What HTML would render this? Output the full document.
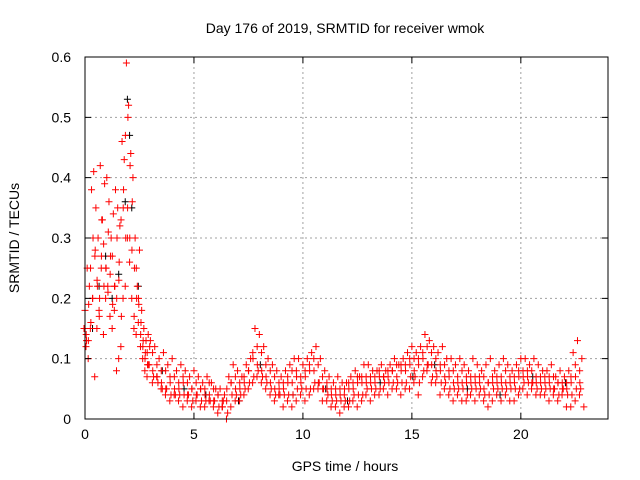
<!DOCTYPE html>
<html><head><meta charset="utf-8"><style>
html,body{margin:0;padding:0;background:#fff;}
svg{display:block;font-family:"Liberation Sans",sans-serif;}
</style></head><body>
<svg id="chart" width="640" height="480" viewBox="0 0 640 480">
<rect x="0" y="0" width="640" height="480" fill="#fff"/>
<g id="grid"></g>
<g id="marks"></g>
<rect x="85" y="57" width="523" height="362" fill="none" stroke="#000" stroke-width="1"/>
<g id="axes"></g>
<text x="345" y="33" text-anchor="middle" font-size="14" fill="#000">Day 176 of 2019, SRMTID for receiver wmok</text>
<text x="345" y="471" text-anchor="middle" font-size="14" fill="#000">GPS time / hours</text>
<text x="19" y="238" text-anchor="middle" font-size="14" fill="#000" transform="rotate(-90 19 238)">SRMTID / TECUs</text>
</svg>
<script>
const xTicks = [0,5,10,15,20];
const yTicks = [0,0.1,0.2,0.3,0.4,0.5,0.6];
const yTickLabels = ["0","0.1","0.2","0.3","0.4","0.5","0.6"];
const earlyHours = [0,0.1,0.2,0.3,0.4,0.5,0.6,0.7,0.8,0.9,1.0,1.1,1.2,1.3,1.4,1.5,1.6,1.7,1.8,1.9,2.0,2.1,2.2,2.3,2.4,2.5,2.6,2.7,2.8,2.9];
const earlyA = [.18,.25,.22,.38,.41,.35,.30,.42,.33,.39,.40,.36,.30,.34,.38,.35,.32,.46,.43,.59,.52,.44,.40,.30,.22,.28,.18,.15,.13,.14];
const earlyB = [.12,.10,.15,.20,.07,.15,.18,.25,.14,.20,.22,.17,.15,.18,.08,.10,.12,.20,.22,.30,.26,.20,.15,.14,.16,.12,.10,.08,.07,.09];
const earlyC = [.15,.14,.13,.25,.20,.27,.23,.17,.27,.29,.25,.21,.24,.27,.22,.20,.23,.33,.35,.47,.35,.30,.28,.17,.25,.20,.14,.12,.10,.11];
const earlyD = [.13,.19,.16,.30,.28,.22,.20,.33,.22,.25,.31,.27,.19,.22,.30,.26,.17,.38,.30,.50,.42,.36,.25,.20,.19,.16,.13,.11,.09,.12];
const lateHours = [3,3.2,3.4,3.6,3.8,4,4.2,4.4,4.6,4.8,5,5.2,5.4,5.6,5.8,6,6.2,6.4,6.6,6.8,7,7.2,7.4,7.6,7.8,8,8.2,8.4,8.6,8.8,9,9.2,9.4,9.6,9.8,10,10.2,10.4,10.6,10.8,11,11.2,11.4,11.6,11.8,12,12.2,12.4,12.6,12.8,13,13.2,13.4,13.6,13.8,14,14.2,14.4,14.6,14.8,15,15.2,15.4,15.6,15.8,16,16.2,16.4,16.6,16.8,17,17.2,17.4,17.6,17.8,18,18.2,18.4,18.6,18.8,19,19.2,19.4,19.6,19.8,20,20.2,20.4,20.6,20.8,21,21.2,21.4,21.6,21.8,22,22.2,22.4,22.6,22.8];
const lateA = [.13,.12,.10,.11,.09,.10,.08,.09,.08,.07,.08,.07,.06,.07,.06,.05,.05,.04,.07,.09,.08,.07,.09,.10,.15,.14,.12,.10,.09,.08,.07,.08,.09,.10,.10,.09,.10,.11,.12,.10,.08,.07,.06,.07,.06,.06,.07,.08,.07,.09,.09,.08,.08,.09,.08,.09,.10,.09,.10,.11,.12,.11,.12,.14,.13,.12,.11,.12,.10,.10,.09,.10,.09,.08,.10,.09,.08,.09,.10,.08,.09,.10,.09,.08,.09,.10,.10,.09,.10,.09,.08,.08,.09,.07,.08,.07,.08,.11,.13,.10];
const lateB = [.06,.07,.05,.04,.03,.04,.03,.02,.03,.02,.03,.02,.02,.03,.02,.01,.02,.00,.02,.03,.03,.04,.05,.06,.07,.06,.05,.04,.03,.04,.02,.03,.02,.03,.04,.03,.04,.05,.05,.03,.03,.02,.02,.01,.02,.02,.03,.02,.03,.04,.03,.04,.04,.05,.04,.05,.05,.04,.05,.05,.06,.04,.07,.08,.06,.06,.04,.05,.04,.03,.04,.03,.03,.04,.03,.04,.03,.02,.03,.04,.03,.04,.03,.03,.04,.05,.04,.05,.04,.04,.04,.03,.04,.03,.04,.02,.02,.03,.04,.02];
const lateC = [.09,.08,.07,.06,.05,.06,.05,.05,.06,.04,.05,.04,.05,.04,.04,.03,.04,.02,.05,.06,.05,.05,.06,.08,.10,.09,.08,.07,.06,.05,.05,.05,.06,.06,.07,.06,.07,.08,.08,.06,.05,.05,.04,.04,.04,.05,.05,.05,.06,.06,.06,.06,.06,.07,.07,.07,.08,.07,.08,.08,.09,.08,.09,.10,.09,.09,.08,.08,.07,.07,.06,.06,.06,.06,.06,.06,.06,.05,.06,.06,.06,.06,.06,.06,.06,.07,.07,.07,.06,.06,.06,.06,.06,.05,.06,.05,.05,.06,.07,.06];
const lateHours2 = [3.1,3.3,3.5,3.7,3.9,4.1,4.3,4.5,4.7,4.9,5.1,5.3,5.5,5.7,5.9,6.1,6.3,6.5,6.7,6.9,7.1,7.3,7.5,7.7,7.9,8.1,8.3,8.5,8.7,8.9,9.1,9.3,9.5,9.7,9.9,10.1,10.3,10.5,10.7,10.9,11.1,11.3,11.5,11.7,11.9,12.1,12.3,12.5,12.7,12.9,13.1,13.3,13.5,13.7,13.9,14.1,14.3,14.5,14.7,14.9,15.1,15.3,15.5,15.7,15.9,16.1,16.3,16.5,16.7,16.9,17.1,17.3,17.5,17.7,17.9,18.1,18.3,18.5,18.7,18.9,19.1,19.3,19.5,19.7,19.9,20.1,20.3,20.5,20.7,20.9,21.1,21.3,21.5,21.7,21.9,22.1,22.3,22.5,22.7];
const lateD = [.11,.09,.08,.08,.07,.07,.06,.07,.06,.05,.06,.05,.05,.06,.05,.04,.03,.03,.06,.07,.06,.07,.08,.11,.12,.11,.09,.08,.07,.06,.06,.07,.08,.08,.07,.08,.09,.10,.09,.07,.06,.05,.05,.05,.04,.06,.06,.07,.07,.07,.07,.07,.08,.07,.08,.08,.09,.09,.09,.10,.10,.10,.11,.12,.11,.10,.09,.09,.08,.08,.07,.08,.07,.07,.07,.07,.07,.06,.07,.07,.07,.08,.07,.07,.08,.08,.08,.08,.07,.07,.07,.07,.07,.06,.06,.06,.07,.09,.08];
const lateE = [.07,.06,.05,.05,.04,.04,.04,.04,.04,.03,.04,.03,.03,.03,.03,.02,.03,.01,.04,.04,.04,.05,.06,.07,.08,.07,.06,.05,.04,.04,.04,.04,.04,.05,.05,.05,.05,.06,.06,.05,.04,.03,.03,.03,.03,.03,.04,.04,.04,.05,.05,.05,.05,.06,.06,.06,.06,.06,.06,.07,.07,.06,.08,.09,.07,.07,.06,.06,.05,.05,.05,.05,.04,.05,.05,.05,.04,.04,.05,.05,.05,.05,.05,.05,.05,.06,.06,.06,.05,.05,.05,.05,.05,.04,.05,.04,.04,.05,.05];
const blackHours = [0.3,0.6,0.9,1.2,1.5,1.8,1.9,2.0,2.1,2.4,3.5,4.5,5.5,7,8,9.5,11,12,13.5,15,16,17.5,19,20.5,22];
const blackValues = [.15,.22,.27,.20,.24,.36,.53,.47,.35,.22,.08,.05,.04,.03,.09,.04,.05,.03,.06,.07,.09,.05,.04,.07,.06];

const X0=85,X1=608,Y0=419,Y1=57,XMAX=24,YMAX=0.6;
const sx=h=>X0+(h/XMAX)*(X1-X0);
const sy=v=>Y0-(v/YMAX)*(Y0-Y1);
const NS="http://www.w3.org/2000/svg";
const grid=document.getElementById('grid'),axes=document.getElementById('axes'),marks=document.getElementById('marks');
function mk(t,a,p){const e=document.createElementNS(NS,t);for(const k in a)e.setAttribute(k,a[k]);p.appendChild(e);return e;}
xTicks.forEach(t=>{
  const x=sx(t);
  if(t>0){const g=mk('line',{x1:x,y1:Y1,x2:x,y2:Y0,stroke:'#a0a0a0','stroke-dasharray':'2,3','stroke-width':1},grid);
  
  }
  const tk=mk('path',{d:`M${x},${Y0}v-6M${x},${Y1}v6`,stroke:'#000'},axes);
  
  
  const lb=mk('text',{x:x,y:Y0+20,'text-anchor':'middle','font-size':14},axes);lb.textContent=t;
  
  
});
yTicks.forEach((t,i)=>{
  const y=sy(t);
  if(t>0&&t<YMAX){const g=mk('line',{x1:X0,y1:y,x2:X1,y2:y,stroke:'#a0a0a0','stroke-dasharray':'2,3','stroke-width':1},grid);
  
  }
  const tk=mk('path',{d:`M${X0},${y}h6M${X1},${y}h-6`,stroke:'#000'},axes);
  
  
  const lb=mk('text',{x:X0-14,y:y+5,'text-anchor':'end','font-size':14},axes);lb.textContent=yTickLabels[i];
  
  
});
function plus(h,v,color,dx){
  const x=sx(h)+dx,y=sy(v);
  const p=mk('path',{d:`M${x-3.5},${y}h7M${x},${y-3.5}v7`,stroke:color,'stroke-width':1,fill:'none'},marks);
  
  
}
blackHours.forEach((h,i)=>plus(h,blackValues[i],'#000',1));
[[earlyA,0],[earlyB,1],[earlyC,-1],[earlyD,1.5]].forEach(([arr,dx])=>earlyHours.forEach((h,i)=>plus(h,arr[i],'#ff0000',dx)));
[[lateA,0],[lateB,2],[lateC,-2]].forEach(([arr,dx])=>lateHours.forEach((h,i)=>plus(h,arr[i],'#ff0000',dx)));
[[lateD,0],[lateE,1]].forEach(([arr,dx])=>lateHours2.forEach((h,i)=>plus(h,arr[i],'#ff0000',dx)));
</script>
</body></html>
